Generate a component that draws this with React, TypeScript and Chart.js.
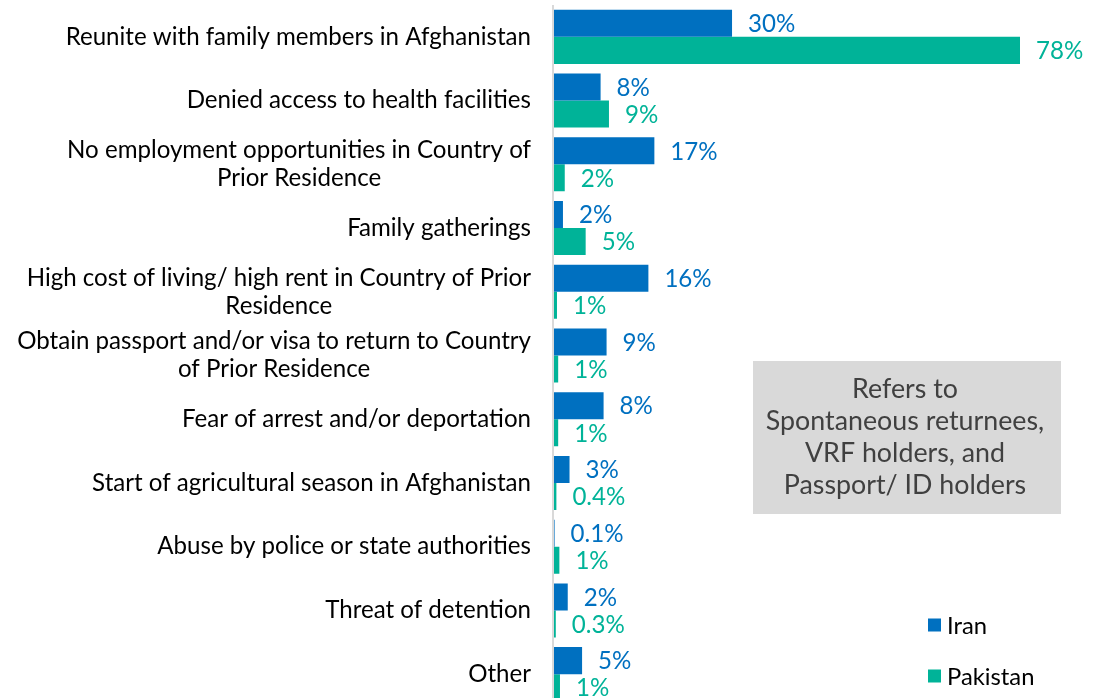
import React, { useEffect, useRef } from "react";
import { Chart, registerables } from "chart.js";

Chart.register(...registerables);

const categories: string[][] = [
  ["Reunite with family members in Afghanistan"],
  ["Denied access to health facilities"],
  ["No employment opportunities in Country of", "Prior Residence"],
  ["Family gatherings"],
  ["High cost of living/ high rent in Country of Prior", "Residence"],
  ["Obtain passport and/or visa to return to Country", "of Prior Residence"],
  ["Fear of arrest and/or deportation"],
  ["Start of agricultural season in Afghanistan"],
  ["Abuse by police or state authorities"],
  ["Threat of detention"],
  ["Other"],
];

const iranValues = [29.8, 7.8, 16.8, 1.5, 15.8, 8.8, 8.3, 2.6, 0.1, 2.3, 4.7];
const pakistanValues = [78, 9.2, 1.8, 5.3, 0.5, 0.7, 0.7, 0.4, 0.9, 0.3, 1.0];

const seriesNames = ["Iran", "Pakistan"];
const seriesColors = ["#0070C0", "#00B398"];

const noteLines = ["Refers to", "Spontaneous returnees,", "VRF holders, and", "Passport/ ID holders"];

const FONT = "Lato, 'Open Sans', sans-serif";

function fmt(v: number): string {
  return v < 0.5 ? v.toFixed(1) + "%" : Math.round(v) + "%";
}

const customPlugin = {
  id: "customDraw",
  beforeDatasetsDraw(chart: any) {
    const ctx = chart.ctx;
    const { top, bottom, left } = chart.chartArea;
    ctx.save();
    ctx.fillStyle = "#d9d9d9";
    ctx.fillRect(left - 2, top, 2, bottom - top);
    ctx.restore();
  },
  afterDatasetsDraw(chart: any) {
    const ctx = chart.ctx;
    const yScale = chart.scales.y;
    ctx.save();
    // category labels
    ctx.font = `24.1px ${FONT}`;
    ctx.fillStyle = "#000000";
    ctx.textBaseline = "middle";
    ctx.textAlign = "center";
    const labelRight = chart.chartArea.left - 23;
    categories.forEach((lines, i) => {
      const cy = yScale.getPixelForValue(i);
      const maxW = Math.max(...lines.map((l) => ctx.measureText(l).width));
      const cx = labelRight - maxW / 2;
      lines.forEach((l, j) => {
        ctx.fillText(l, cx, cy + (j - (lines.length - 1) / 2) * 28);
      });
    });
    // value labels
    ctx.textAlign = "left";
    chart.data.datasets.forEach((ds: any, di: number) => {
      const meta = chart.getDatasetMeta(di);
      ctx.fillStyle = seriesColors[di];
      meta.data.forEach((el: any, i: number) => {
        ctx.fillText(fmt(ds.data[i]), el.x + 16, el.y + 1);
      });
    });
    // note box
    ctx.fillStyle = "#d9d9d9";
    ctx.fillRect(753, 361, 308, 153);
    ctx.fillStyle = "#404040";
    ctx.font = `26.8px ${FONT}`;
    ctx.textAlign = "center";
    noteLines.forEach((l, j) => {
      ctx.fillText(l, 905, 389 + j * 32);
    });
    // legend
    ctx.font = `23.8px ${FONT}`;
    ctx.textAlign = "left";
    seriesNames.forEach((name, j) => {
      const y = 625 + j * 51;
      ctx.fillStyle = seriesColors[j];
      ctx.fillRect(928, y - 6.5, 13, 13);
      ctx.fillStyle = "#000000";
      ctx.fillText(name, 947, y + 1);
    });
    ctx.restore();
  },
};

export default function App() {
  const canvasRef = useRef<HTMLCanvasElement | null>(null);

  useEffect(() => {
    let chart: Chart | null = null;
    let cancelled = false;
    const make = () => {
      if (cancelled || !canvasRef.current) return;
      chart = new Chart(canvasRef.current, {
        type: "bar",
        data: {
          labels: categories.map((l) => l.join(" ")),
          datasets: [
            {
              label: seriesNames[0],
              data: iranValues,
              backgroundColor: seriesColors[0],
              categoryPercentage: 0.848,
              barPercentage: 1,
            },
            {
              label: seriesNames[1],
              data: pakistanValues,
              backgroundColor: seriesColors[1],
              categoryPercentage: 0.848,
              barPercentage: 1,
            },
          ],
        },
        options: {
          indexAxis: "y",
          responsive: false,
          animation: false,
          layout: { padding: { top: 5, right: 15.3, bottom: 6, left: 0 } },
          plugins: {
            legend: { display: false },
            tooltip: { enabled: false },
          },
          scales: {
            x: {
              display: false,
              min: 0,
              max: 90,
            },
            y: {
              grid: { display: false },
              border: { display: false },
              ticks: { display: false },
              afterFit: (scale: any) => {
                scale.width = 554;
              },
            },
          },
        },
        plugins: [customPlugin],
      } as any);
    };
    const fonts = (document as any).fonts;
    if (fonts && fonts.load) {
      Promise.all([fonts.load(`24px Lato`), fonts.load(`27px Lato`)])
        .catch(() => {})
        .then(make);
    } else {
      make();
    }
    return () => {
      cancelled = true;
      if (chart) chart.destroy();
    };
  }, []);

  return (
    <div
      style={{
        position: "fixed",
        left: 0,
        top: 0,
        width: 1107,
        height: 698,
        overflow: "hidden",
        background: "#ffffff",
      }}
    >
      <canvas ref={canvasRef} width={1107} height={712} style={{ display: "block" }} />
    </div>
  );
}
